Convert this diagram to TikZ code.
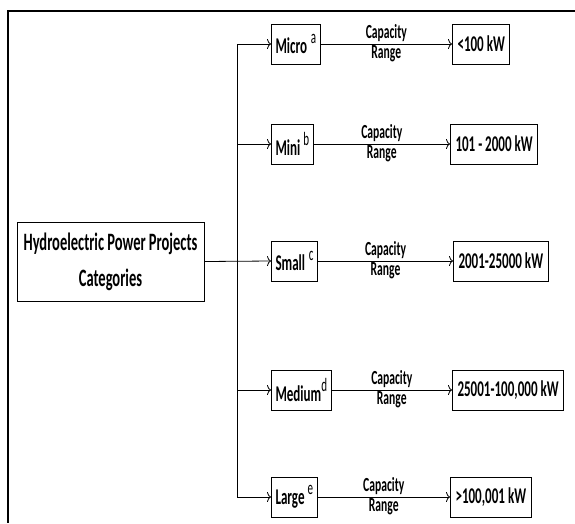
\documentclass[tikz,border=0pt]{standalone}
\usepackage{fontspec}
\setmainfont{Carlito}[FakeStretch=0.58]
\usetikzlibrary{arrows.meta}

% raised letter after a category name
\newcommand{\catmark}[1]{\raisebox{0.42em}{\fontsize{19}{19}\mdseries\selectfont #1}}

\tikzset{
  catbox/.style={draw, line width=1pt, minimum height=40pt, inner xsep=4pt, anchor=west, font=\fontsize{22.5}{24}\bfseries\selectfont},
  rangebox/.style={draw, line width=1pt, minimum height=40pt, inner xsep=5pt, anchor=west, font=\fontsize{22.5}{24}\bfseries\selectfont},
  arrow/.style={line width=0.8pt, -{To[length=4pt,width=10pt]}},
  lbl/.style={font=\fontsize{20}{20}\bfseries\selectfont, inner sep=1.5pt}
}

\begin{document}
\begin{tikzpicture}[x=1pt, y=-1pt]
    \useasboundingbox (0,0) rectangle (575,523);
    % frame
    \draw[line width=1.2pt] (575,11) -- (8,11) -- (8,523);

    \node[draw, line width=1pt, minimum width=187pt, minimum height=79pt, align=center,
          font=\fontsize{25}{36}\bfseries\selectfont] (hpp) at (110.5,261.5) {Hydroelectric Power Projects\\Categories};
    \coordinate (bus) at (237,261.5);

    % categories
    \node[catbox] (micro) at (271,44) {Micro\,\catmark{a}};
    \node[catbox] (mini) at (271,144) {Mini \catmark{b}};
    \node[catbox] (small) at (271,261) {Small\,\catmark{c}};
    \node[catbox] (medium) at (271,390) {Medium\catmark{d}};
    \node[catbox] (large) at (271,497) {Large \catmark{e}};

    % ranges
    \node[rangebox] (r1) at (452,44) {<100 kW};
    \node[rangebox] (r2) at (450,144) {101 - 2000 kW};
    \node[rangebox] (r3) at (453,261) {2001-25000 kW};
    \node[rangebox] (r4) at (452,390) {25001-100,000 kW};
    \node[rangebox] (r5) at (450,497) {>100,001 kW};

    % bus
    \draw[line width=0.8pt] (micro.west -| bus) -- (large.west -| bus);
    \draw[arrow] (hpp.east) -- (small.west);
    \draw[arrow] (micro.west -| bus) -- (micro.west);
    \draw[arrow] (mini.west -| bus) -- (mini.west);
    \draw[arrow] (medium.west -| bus) -- (medium.west);
    \draw[arrow] (large.west -| bus) -- (large.west);

    % capacity arrows
    \draw[arrow] (micro) -- node[lbl, above] {Capacity} node[lbl, below] {Range} (r1);
    \draw[arrow] (mini) -- node[lbl, above] {Capacity} node[lbl, below] {Range} (r2);
    \draw[arrow] (small) -- node[lbl, above] {Capacity} node[lbl, below] {Range} (r3);
    \draw[arrow] (medium) -- node[lbl, above] {Capacity} node[lbl, below] {Range} (r4);
    \draw[arrow] (large) -- node[lbl, above] {Capacity} node[lbl, below] {Range} (r5);
\end{tikzpicture}
\end{document}
